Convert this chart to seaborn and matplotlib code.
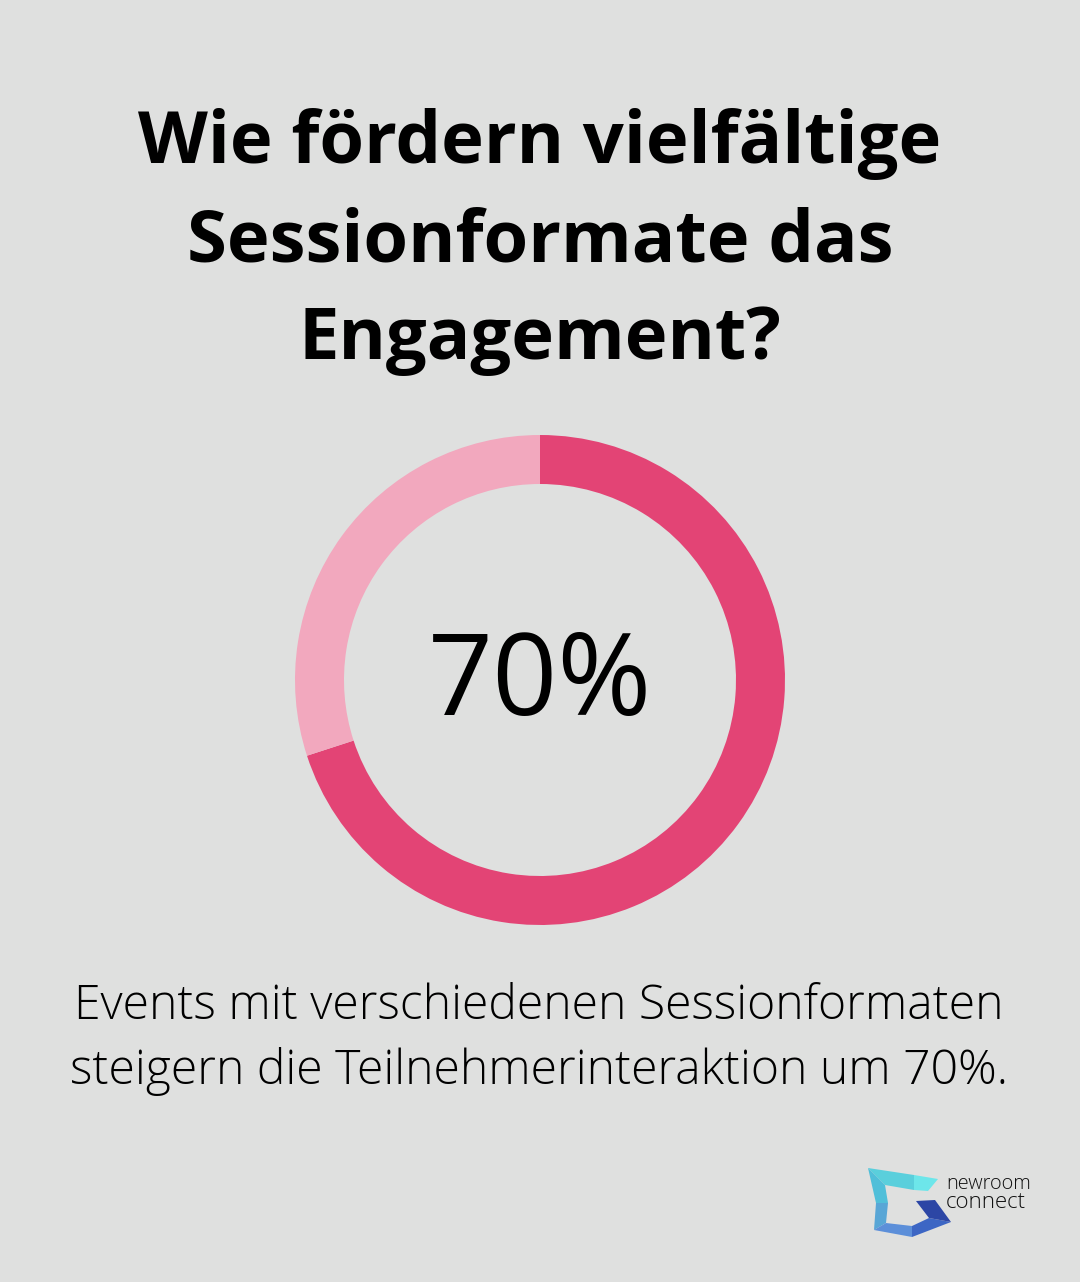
import matplotlib
matplotlib.use("Agg")
import matplotlib.pyplot as plt
import seaborn as sns
from matplotlib.patches import Polygon

sns.set_theme(style="white")
plt.rcParams['font.family'] = ['Open Sans', 'DejaVu Sans']

BG = "#DFE0DF"
title_lines = ["Wie fördern vielfältige", "Sessionformate das", "Engagement?"]
labels = ["Mehr Interaktion", "Rest"]
values = [70, 30]
colors = ["#E34475", "#F2A8BE"]
center_label = "70%"
caption_lines = ["Events mit verschiedenen Sessionformaten",
                 "steigern die Teilnehmerinteraktion um 70%."]
brand = ["newroom", "connect"]

W, H = 1080, 1282
fig = plt.figure(figsize=(W / 100, H / 100), dpi=100)
fig.patch.set_facecolor(BG)

bg = fig.add_axes([0, 0, 1, 1])
bg.set_xlim(0, W)
bg.set_ylim(H, 0)
bg.axis("off")
bg.set_facecolor(BG)

for i, line in enumerate(title_lines):
    bg.text(540, 144 + i * 98, line, ha="center", va="center",
            fontsize=52, fontweight="bold", color="#000000")

for i, line in enumerate(caption_lines):
    bg.text(539, 1007 + i * 65, line, ha="center", va="center",
            fontsize=34.7, fontweight="light", color="#000000")

# donut
cx, cy, R = 540, 680, 245
ax = fig.add_axes([(cx - R) / W, 1 - (cy + R) / H, 2 * R / W, 2 * R / H])
ax.pie(values, colors=colors, startangle=90, counterclock=False,
       radius=1.0, wedgeprops=dict(width=0.2, linewidth=0))
ax.set_xlim(-1, 1)
ax.set_ylim(-1, 1)
ax.set_aspect("equal")
ax.axis("off")
ax.text(0, -0.02, center_label, ha="center", va="center", fontsize=82,
        fontweight="normal", color="#000000")

# logo
logo = [
    ([(868, 1168), (914, 1175), (914, 1190), (885, 1185)], "#5ACFDC"),
    ([(914, 1175), (938, 1179), (928, 1191), (914, 1190)], "#6DE6EA"),
    ([(868, 1168), (885, 1185), (888, 1203), (876, 1203)], "#50BFD9"),
    ([(876, 1203), (888, 1203), (886, 1223), (874, 1230)], "#58A6D6"),
    ([(874, 1230), (886, 1223), (912, 1226), (912, 1237)], "#5C8FD9"),
    ([(912, 1226), (929, 1218), (951, 1222), (912, 1237)], "#3C66C4"),
    ([(916, 1201), (935, 1200), (951, 1222), (929, 1218)], "#2C46A5"),
]
for pts, c in logo:
    bg.add_patch(Polygon(pts, closed=True, facecolor=c, edgecolor="none"))
bg.text(946, 1184, brand[0], ha="left", va="center", fontsize=14.3,
        fontweight="light", color="#111111")
bg.text(946, 1202, brand[1], ha="left", va="center", fontsize=16,
        fontweight="light", color="#111111")

fig.savefig("out.png", dpi=100, facecolor=BG)
